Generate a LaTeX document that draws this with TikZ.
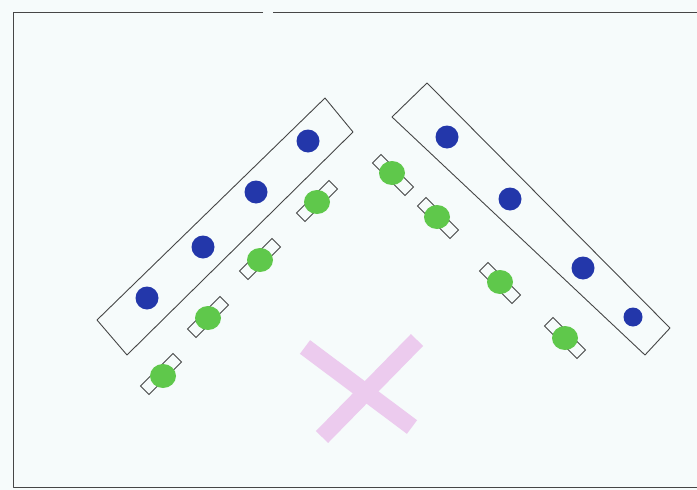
\documentclass[tikz,border=0pt]{standalone}
\begin{document}
\begin{tikzpicture}[x=1pt,y=-1pt,
  pencil/.style={draw=pencilc,line width=0.9pt,line join=round},
  bluedot/.style={circle,fill=inkblue,draw=none,inner sep=0pt,minimum size=23pt},
  greendot/.style={ellipse,fill=inkgreen,draw=none,inner sep=0pt,minimum width=26pt,minimum height=24pt},
  chair/.style={rectangle,draw=pencilc,line width=0.8pt,fill=none,inner sep=0pt,minimum width=46pt,minimum height=12pt},
  xstroke/.style={draw=xpink,line width=17pt,line cap=butt}
]
\definecolor{paper}{RGB}{246,251,251}
\definecolor{pencilc}{RGB}{70,70,70}
\definecolor{inkblue}{RGB}{35,55,170}
\definecolor{inkgreen}{RGB}{95,200,75}
\definecolor{xpink}{RGB}{236,203,238}
\usetikzlibrary{shapes.geometric}
\fill[paper] (0,0) rectangle (697,490);
\useasboundingbox (0,0) rectangle (697,490);
% frame
\coordinate (f1) at (13,12);
\coordinate (f2) at (263,12);
\coordinate (f3) at (273,12);
\coordinate (f4) at (697,12);
\coordinate (f5) at (13,487);
\coordinate (f6) at (697,487);
\draw[pencil] (f2) -- (f1) -- (f5) -- (f6);
\draw[pencil] (f3) -- (f4);
% left table
\coordinate (la) at (97,320);
\coordinate (lb) at (325,98);
\coordinate (lc) at (353,132);
\coordinate (ld) at (127,355);
\draw[pencil] (la) -- (lb) -- (lc) -- (ld) -- cycle;
% right table
\coordinate (ra) at (392,117);
\coordinate (rb) at (427,83);
\coordinate (rc) at (670,328);
\coordinate (rd) at (645,355);
\draw[pencil] (ra) -- (rb) -- (rc) -- (rd) -- cycle;
% pink X
\coordinate (x1) at (305,347);
\coordinate (x2) at (412,427);
\coordinate (x3) at (417,340);
\coordinate (x4) at (322,437);
\draw[xstroke] (x1) -- (x2);
\draw[xstroke] (x3) -- (x4);
% left chairs
\node[chair,rotate=45] (lc1) at (317,201) {};
\node[chair,rotate=45] (lc2) at (260,259) {};
\node[chair,rotate=45] (lc3) at (208,317) {};
\node[chair,rotate=45] (lc4) at (161,374) {};
\node[greendot] (lg1) at (317,202) {};
\node[greendot] (lg2) at (260,260) {};
\node[greendot] (lg3) at (208,318) {};
\node[greendot] (lg4) at (163,376) {};
% right chairs
\node[chair,rotate=-45] (rc1) at (393,175) {};
\node[chair,rotate=-45] (rc2) at (438,218) {};
\node[chair,rotate=-45] (rc3) at (500,283) {};
\node[chair,rotate=-45] (rc4) at (565,338) {};
\node[greendot] (rg1) at (392,173) {};
\node[greendot] (rg2) at (437,217) {};
\node[greendot] (rg3) at (500,282) {};
\node[greendot] (rg4) at (565,338) {};
% blue dots
\node[bluedot] (lb1) at (308,141) {};
\node[bluedot] (lb2) at (256,192) {};
\node[bluedot] (lb3) at (203,247) {};
\node[bluedot] (lb4) at (147,298) {};
\node[bluedot] (rb1) at (447,137) {};
\node[bluedot] (rb2) at (510,199) {};
\node[bluedot] (rb3) at (583,268) {};
\node[bluedot,minimum size=19pt] (rb4) at (633,317) {};
\end{tikzpicture}
\end{document}
